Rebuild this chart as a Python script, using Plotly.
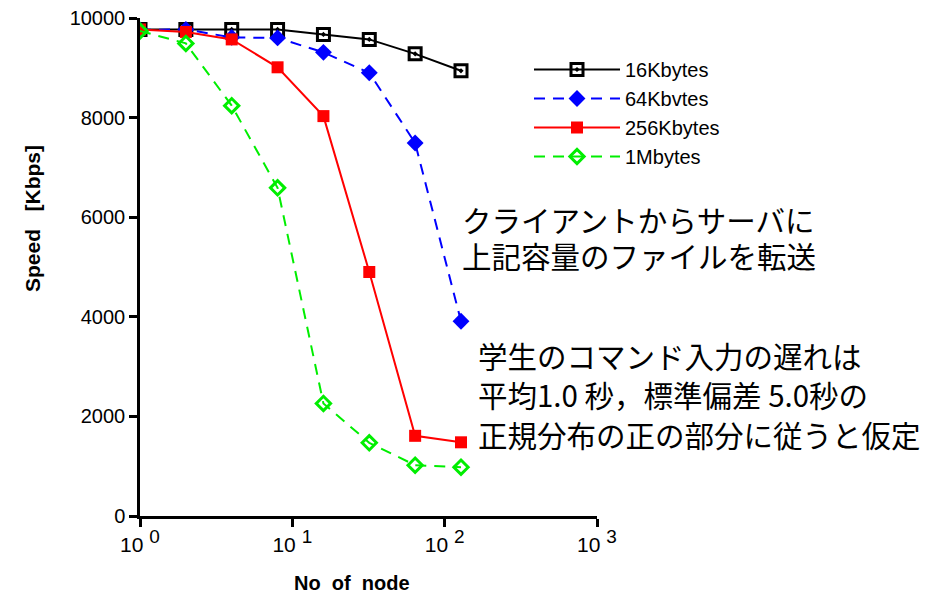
import plotly.graph_objects as go

nodes = [1, 2, 4, 8, 16, 32, 64, 128]
speed_16k = [9770, 9770, 9770, 9770, 9670, 9570, 9280, 8940]
speed_64k = [9760, 9770, 9610, 9600, 9310, 8900, 7490, 3910]
speed_256k = [9770, 9720, 9570, 9010, 8030, 4900, 1610, 1480]
speed_1m = [9740, 9490, 8240, 6590, 2260, 1470, 1020, 980]

series_names = ["16Kbytes", "64Kbvtes", "256Kbytes", "1Mbytes"]

x_tickvals = [1, 10, 100, 1000]
x_ticktext = ['10 <sup><span style="font-size:19px">%d</span></sup>' % i for i in range(4)]
y_tickvals = [0, 2000, 4000, 6000, 8000, 10000]
y_ticktext = ["0", "2000", "4000", "6000", "8000", "10000"]

note1 = ["クライアントからサーバに", "上記容量のファイルを転送"]
note2 = ["学生のコマンド入力の遅れは", "平均1.0 秒，標準偏差 5.0秒の", "正規分布の正の部分に従うと仮定"]

fig = go.Figure()
fig.add_trace(go.Scatter(
    x=nodes, y=speed_16k, name=series_names[0], mode="lines+markers",
    line=dict(color="black", width=2),
    marker=dict(symbol="square-open-dot", size=12, color="black", line=dict(width=3, color="black")),
))
fig.add_trace(go.Scatter(
    x=nodes, y=speed_64k, name=series_names[1], mode="lines+markers",
    line=dict(color="#0000ff", width=2, dash="11px,8px"),
    marker=dict(symbol="diamond", size=13, color="#0000ff"),
))
fig.add_trace(go.Scatter(
    x=nodes, y=speed_256k, name=series_names[2], mode="lines+markers",
    line=dict(color="#ff0000", width=2),
    marker=dict(symbol="square", size=12, color="#ff0000"),
))
fig.add_trace(go.Scatter(
    x=nodes, y=speed_1m, name=series_names[3], mode="lines+markers",
    line=dict(color="#00ee00", width=2, dash="11px,8px"),
    marker=dict(symbol="diamond-open", size=11, color="#00ee00", line=dict(width=3, color="#00ee00")),
))

OFF = 8  # page body margin
W, H = 935 - OFF, 593 - OFF
# plot area in screen pixels: x 140..597, y 18..516
L, T = 140 - OFF, 18 - OFF
R, B = W - (597 - OFF), H - (516 - OFF)
pw, ph = W - L - R, H - T - B

def px(xs):
    return (xs - OFF - L) / pw

def py(ys):
    return (H - B - (ys - OFF)) / ph

annotations = []
for i, line in enumerate(note1):
    annotations.append(dict(text=line, x=px(460), y=py([219, 255][i]), xref="paper", yref="paper",
                            xanchor="left", yanchor="middle", showarrow=False,
                            font=dict(family="Noto Sans CJK JP", size=29.5, color="black")))
for i, line in enumerate(note2):
    annotations.append(dict(text=line, x=px(476), y=py([355, 394, 434][i]), xref="paper", yref="paper",
                            xanchor="left", yanchor="middle", showarrow=False,
                            font=dict(family="Noto Sans CJK JP", size=29.5, color="black")))
annotations.append(dict(text="<b>No  of  node</b>", x=px(352), y=py(583), xref="paper", yref="paper",
                        xanchor="center", yanchor="middle", showarrow=False,
                        font=dict(family="Liberation Sans", size=20, color="black")))
annotations.append(dict(text="<b>Speed   [Kbps]</b>", x=px(32), y=py(219), xref="paper", yref="paper",
                        xanchor="center", yanchor="middle", showarrow=False, textangle=-90,
                        font=dict(family="Liberation Sans", size=21, color="black")))

fig.update_layout(
    template="none",
    width=W, height=H,
    margin=dict(l=L, r=R, t=T, b=B, pad=0, autoexpand=False),
    paper_bgcolor="white", plot_bgcolor="white",
    font=dict(family="Liberation Sans", size=21, color="black"),
    showlegend=True,
    legend=dict(x=px(529), y=py(50), xanchor="left", yanchor="top",
                font=dict(family="Liberation Sans", size=20, color="black"),
                itemwidth=86, bgcolor="rgba(0,0,0,0)", tracegroupgap=0),
    annotations=annotations,
    xaxis=dict(type="log", range=[0, 3], tickvals=x_tickvals, ticktext=x_ticktext, automargin=False,
               ticklabeloverflow="allow",
               showline=True, linecolor="black", linewidth=2.5, ticks="outside", ticklen=8,
               tickwidth=2.5, tickcolor="black", showgrid=False, zeroline=False,
               tickfont=dict(family="Liberation Sans", size=21, color="black")),
    yaxis=dict(range=[0, 10000], tickvals=y_tickvals, ticktext=y_ticktext, automargin=False,
               ticklabeloverflow="allow",
               showline=True, linecolor="black", linewidth=2.5,
               ticks="outside", ticklen=8, tickwidth=2.5, tickcolor="black", showgrid=False,
               zeroline=False, tickfont=dict(family="Liberation Sans", size=20, color="black")),
)

fig.write_html("out.html")
